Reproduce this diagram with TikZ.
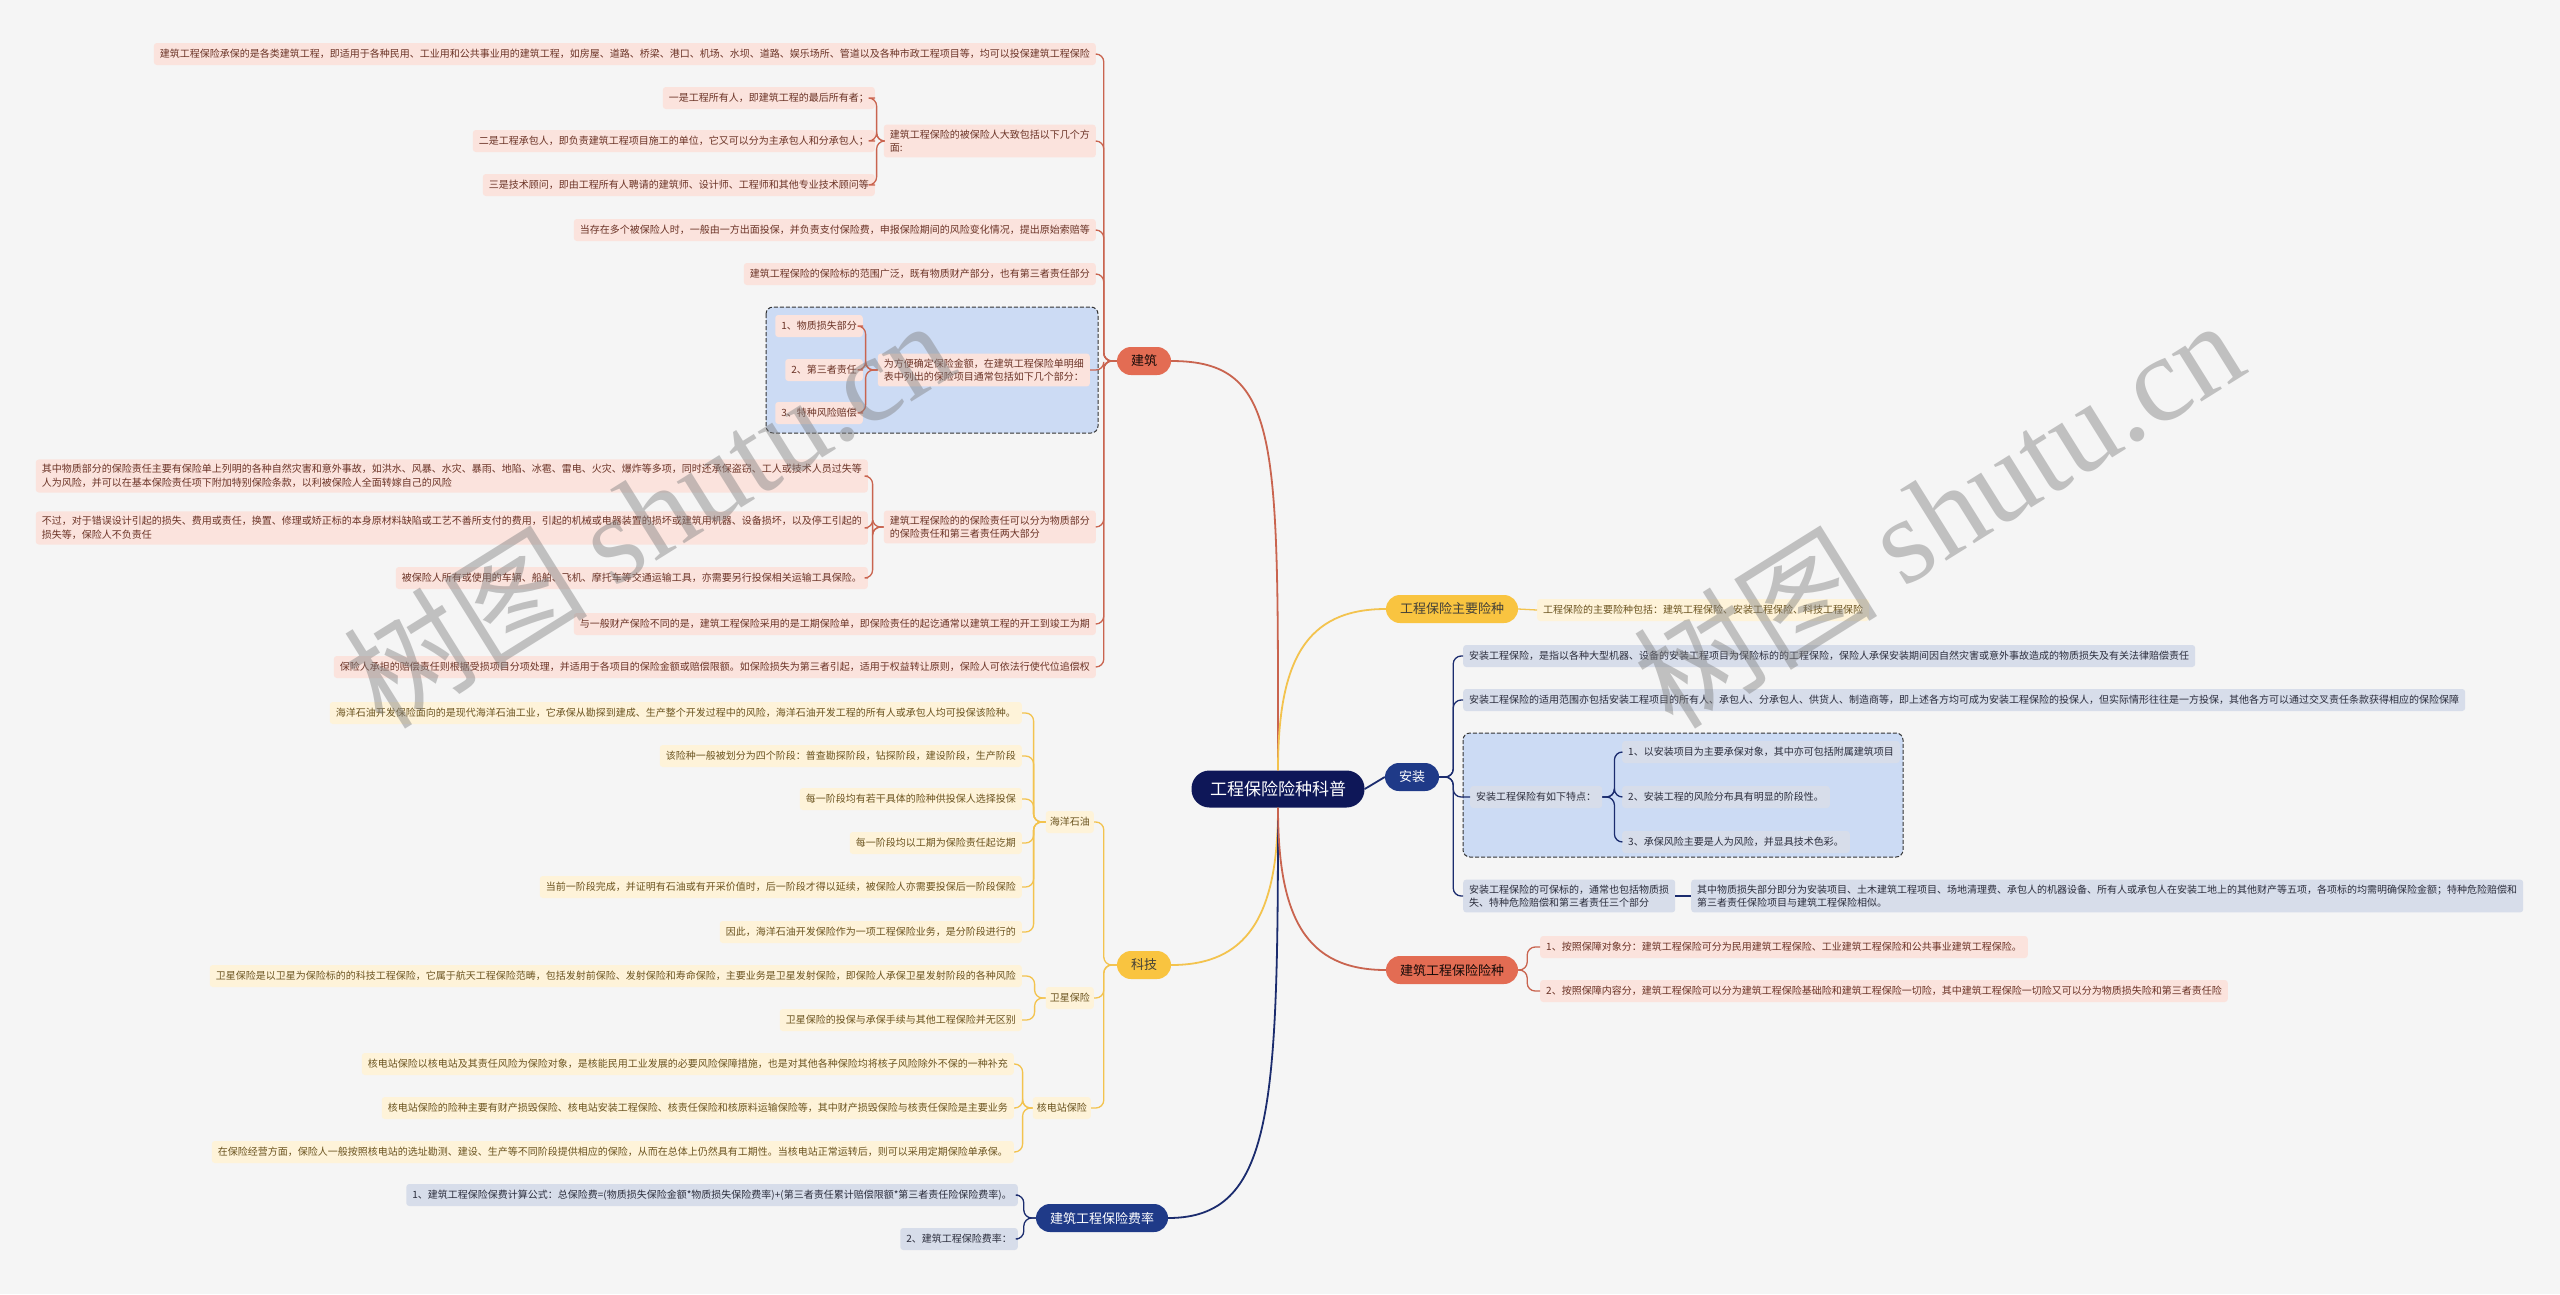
\documentclass[tikz,border=0pt]{standalone}
\usepackage{fontspec}
\setmainfont{Noto Sans CJK SC}
\newfontfamily\wmserif{Liberation Serif}
\usepackage{xcolor}
\usepackage{tikz}
\usetikzlibrary{positioning, calc}

\definecolor{bggrey}{HTML}{F5F5F5}
\definecolor{rootblue}{HTML}{0E1758}
\definecolor{navynode}{HTML}{1F3A88}
\definecolor{navyline}{HTML}{1B2C6E}
\definecolor{navyleaf}{HTML}{D7DDEA}
\definecolor{navytext}{HTML}{2B2D3C}
\definecolor{coralnode}{HTML}{E36C53}
\definecolor{coralline}{HTML}{C9644F}
\definecolor{coralleaf}{HTML}{FBE3DD}
\definecolor{coraltext}{HTML}{6B3326}
\definecolor{yellownode}{HTML}{F9C440}
\definecolor{yellowline}{HTML}{F3C34E}
\definecolor{yellowleaf}{HTML}{FEF3D9}
\definecolor{yellowtext}{HTML}{6B5420}
\definecolor{groupblue}{HTML}{CCDBF4}

\newcommand{\leaffont}{\fontsize{10}{13.5}\selectfont}

\begin{document}
\begin{tikzpicture}[
        x=1pt, y=-1pt,
        rootnode/.style={rectangle, rounded corners=18pt, fill=rootblue, text=white, font=\fontsize{17}{20}\selectfont, minimum width=173pt, minimum height=37pt},
        topic/.style={rectangle, rounded corners=14pt, font=\fontsize{13}{15}\selectfont, inner xsep=14pt, minimum height=28pt},
        coraltopic/.style={topic, fill=coralnode, text=black!80!coraltext},
        yellowtopic/.style={topic, fill=yellownode, text=black!85!yellow},
        navytopic/.style={topic, fill=navynode, text=white},
        leaf/.style={rectangle, rounded corners=3pt, font=\leaffont, inner xsep=6pt, inner ysep=5pt, minimum height=22pt, align=left},
        coralleafbox/.style={leaf, fill=coralleaf, text=coraltext},
        yellowleafbox/.style={leaf, fill=yellowleaf, text=yellowtext},
        navyleafbox/.style={leaf, fill=navyleaf, text=navytext},
        groupbox/.style={draw=black!80, fill=groupblue, dash pattern=on 4pt off 2pt, line width=1pt, rounded corners=7pt},
        coralbranch/.style={draw=coralline, line width=1.3pt, rounded corners=8pt},
        yellowbranch/.style={draw=yellowline, line width=1.3pt, rounded corners=8pt},
        navybranch/.style={draw=navyline, line width=1.3pt, rounded corners=8pt},
        watermark/.style={text=black!50, text opacity=0.45, rotate=32, font=\fontsize{122}{122}\selectfont}
    ]
        % Background
        \fill[bggrey] (0,0) rectangle (2560,1294);
        \useasboundingbox (0,0) rectangle (2560,1294);

        % Groups
        \draw[groupbox] (766,307) rectangle (1098,433);
        \draw[groupbox] (1463,733) rectangle (1903,857);

        % Root and topics
        \node[rootnode] (root) at (1278,789) {工程保险险种科普};
        \node[coraltopic] (jz) at (1144,361) {建筑};
        \node[yellowtopic] (kj) at (1144,965) {科技};
        \node[navytopic] (fl) at (1102,1218) {建筑工程保险费率};
        \node[yellowtopic] (zyxz) at (1452,609) {工程保险主要险种};
        \node[navytopic] (az) at (1412,777) {安装};
        \node[coraltopic] (jzxz) at (1452,970) {建筑工程保险险种};

        % Jianzhu
        \node[coralleafbox, anchor=east] (jza) at (1096,54) {建筑工程保险承保的是各类建筑工程，即适用于各种民用、工业用和公共事业用的建筑工程，如房屋、道路、桥梁、港口、机场、水坝、道路、娱乐场所、管道以及各种市政工程项目等，均可以投保建筑工程保险};
        \node[coralleafbox, anchor=east] (jzb) at (1096,141) {建筑工程保险的被保险人大致包括以下几个方\\面:};
        \node[coralleafbox, anchor=east] (jzb1) at (875,98) {一是工程所有人，即建筑工程的最后所有者；};
        \node[coralleafbox, anchor=east] (jzb2) at (875,141) {二是工程承包人，即负责建筑工程项目施工的单位，它又可以分为主承包人和分承包人；};
        \node[coralleafbox, anchor=east] (jzb3) at (875,185) {三是技术顾问，即由工程所有人聘请的建筑师、设计师、工程师和其他专业技术顾问等};
        \node[coralleafbox, anchor=east] (jzc) at (1096,230) {当存在多个被保险人时，一般由一方出面投保，并负责支付保险费，申报保险期间的风险变化情况，提出原始索赔等};
        \node[coralleafbox, anchor=east] (jzd) at (1096,274) {建筑工程保险的保险标的范围广泛，既有物质财产部分，也有第三者责任部分};
        \node[coralleafbox, anchor=east] (jze) at (1090,370) {为方便确定保险金额，在建筑工程保险单明细\\表中列出的保险项目通常包括如下几个部分：};
        \node[coralleafbox, anchor=east] (jze1) at (863,326) {1、物质损失部分};
        \node[coralleafbox, anchor=east] (jze2) at (863,370) {2、第三者责任};
        \node[coralleafbox, anchor=east] (jze3) at (863,413) {3、特种风险赔偿};
        \node[coralleafbox, anchor=east] (jzf) at (1096,527) {建筑工程保险的的保险责任可以分为物质部分\\的保险责任和第三者责任两大部分};
        \node[coralleafbox, anchor=east] (jzf1) at (868,476) {其中物质部分的保险责任主要有保险单上列明的各种自然灾害和意外事故，如洪水、风暴、水灾、暴雨、地陷、冰雹、雷电、火灾、爆炸等多项，同时还承保盗窃、工人或技术人员过失等\\人为风险，并可以在基本保险责任项下附加特别保险条款，以利被保险人全面转嫁自己的风险};
        \node[coralleafbox, anchor=east] (jzf2) at (868,528) {不过，对于错误设计引起的损失、费用或责任，换置、修理或矫正标的本身原材料缺陷或工艺不善所支付的费用，引起的机械或电器装置的损坏或建筑用机器、设备损坏，以及停工引起的\\损失等，保险人不负责任};
        \node[coralleafbox, anchor=east] (jzf3) at (868,578) {被保险人所有或使用的车辆、船舶、飞机、摩托车等交通运输工具，亦需要另行投保相关运输工具保险。};
        \node[coralleafbox, anchor=east] (jzg) at (1096,624) {与一般财产保险不同的是，建筑工程保险采用的是工期保险单，即保险责任的起讫通常以建筑工程的开工到竣工为期};
        \node[coralleafbox, anchor=east] (jzh) at (1096,667) {保险人承担的赔偿责任则根据受损项目分项处理，并适用于各项目的保险金额或赔偿限额。如保险损失为第三者引起，适用于权益转让原则，保险人可依法行使代位追偿权};

        % Keji
        \node[yellowleafbox, anchor=east, inner xsep=4pt] (hy) at (1094,822) {海洋石油};
        \node[yellowleafbox, anchor=east] (hy1) at (1022,713) {海洋石油开发保险面向的是现代海洋石油工业，它承保从勘探到建成、生产整个开发过程中的风险，海洋石油开发工程的所有人或承包人均可投保该险种。};
        \node[yellowleafbox, anchor=east] (hy2) at (1022,756) {该险种一般被划分为四个阶段：普查勘探阶段，钻探阶段，建设阶段，生产阶段};
        \node[yellowleafbox, anchor=east] (hy3) at (1022,799) {每一阶段均有若干具体的险种供投保人选择投保};
        \node[yellowleafbox, anchor=east] (hy4) at (1022,843) {每一阶段均以工期为保险责任起讫期};
        \node[yellowleafbox, anchor=east] (hy5) at (1022,887) {当前一阶段完成，并证明有石油或有开采价值时，后一阶段才得以延续，被保险人亦需要投保后一阶段保险};
        \node[yellowleafbox, anchor=east] (hy6) at (1022,932) {因此，海洋石油开发保险作为一项工程保险业务，是分阶段进行的};
        \node[yellowleafbox, anchor=east, inner xsep=4pt] (wx) at (1094,998) {卫星保险};
        \node[yellowleafbox, anchor=east] (wx1) at (1022,976) {卫星保险是以卫星为保险标的的科技工程保险，它属于航天工程保险范畴，包括发射前保险、发射保险和寿命保险，主要业务是卫星发射保险，即保险人承保卫星发射阶段的各种风险};
        \node[yellowleafbox, anchor=east] (wx2) at (1022,1020) {卫星保险的投保与承保手续与其他工程保险并无区别};
        \node[yellowleafbox, anchor=east, inner xsep=4pt] (hd) at (1091,1108) {核电站保险};
        \node[yellowleafbox, anchor=east] (hd1) at (1014,1064) {核电站保险以核电站及其责任风险为保险对象，是核能民用工业发展的必要风险保障措施，也是对其他各种保险均将核子风险除外不保的一种补充};
        \node[yellowleafbox, anchor=east] (hd2) at (1014,1108) {核电站保险的险种主要有财产损毁保险、核电站安装工程保险、核责任保险和核原料运输保险等，其中财产损毁保险与核责任保险是主要业务};
        \node[yellowleafbox, anchor=east] (hd3) at (1014,1152) {在保险经营方面，保险人一般按照核电站的选址勘测、建设、生产等不同阶段提供相应的保险，从而在总体上仍然具有工期性。当核电站正常运转后，则可以采用定期保险单承保。};

        % Feilv
        \node[navyleafbox, anchor=east] (fl1) at (1018,1195) {1、建筑工程保险保费计算公式：总保险费=(物质损失保险金额*物质损失保险费率)+(第三者责任累计赔偿限额*第三者责任险保险费率)。};
        \node[navyleafbox, anchor=east] (fl2) at (1018,1239) {2、建筑工程保险费率：};

        % Right side
        \node[yellowleafbox, anchor=west] (zy1) at (1537,610) {工程保险的主要险种包括：建筑工程保险、安装工程保险、科技工程保险};
        \node[navyleafbox, anchor=west] (az1) at (1463,656) {安装工程保险，是指以各种大型机器、设备的安装工程项目为保险标的的工程保险，保险人承保安装期间因自然灾害或意外事故造成的物质损失及有关法律赔偿责任};
        \node[navyleafbox, anchor=west] (az2) at (1463,700) {安装工程保险的适用范围亦包括安装工程项目的所有人、承包人、分承包人、供货人、制造商等，即上述各方均可成为安装工程保险的投保人，但实际情形往往是一方投保，其他各方可以通过交叉责任条款获得相应的保险保障};
        \node[navyleafbox, anchor=west] (az3) at (1470,797) {安装工程保险有如下特点：};
        \node[navyleafbox, anchor=west] (az3a) at (1622,752) {1、以安装项目为主要承保对象，其中亦可包括附属建筑项目};
        \node[navyleafbox, anchor=west] (az3b) at (1622,797) {2、安装工程的风险分布具有明显的阶段性。};
        \node[navyleafbox, anchor=west] (az3c) at (1622,842) {3、承保风险主要是人为风险，并显具技术色彩。};
        \node[navyleafbox, anchor=west] (az4) at (1463,896) {安装工程保险的可保标的，通常也包括物质损\\失、特种危险赔偿和第三者责任三个部分};
        \node[navyleafbox, anchor=west] (az4a) at (1691,896) {其中物质损失部分即分为安装项目、土木建筑工程项目、场地清理费、承包人的机器设备、所有人或承包人在安装工地上的其他财产等五项，各项标的均需明确保险金额；特种危险赔偿和\\第三者责任保险项目与建筑工程保险相似。};
        \node[coralleafbox, anchor=west] (xz1) at (1540,947) {1、按照保障对象分：建筑工程保险可分为民用建筑工程保险、工业建筑工程保险和公共事业建筑工程保险。};
        \node[coralleafbox, anchor=west] (xz2) at (1540,991) {2、按照保障内容分，建筑工程保险可以分为建筑工程保险基础险和建筑工程保险一切险，其中建筑工程保险一切险又可以分为物质损失险和第三者责任险};

        % Root links
        \draw[coralline, line width=1.8pt] (root.north) .. controls +(0,-330) and +(110,0) .. (jz.east);
        \draw[yellowline, line width=1.8pt] (root.south) .. controls +(0,110) and +(75,0) .. (kj.east);
        \draw[navyline, line width=1.8pt] (root.south) .. controls +(0,300) and +(105,0) .. (fl.east);
        \draw[yellowline, line width=1.8pt] (root.north) .. controls +(0,-110) and +(-80,0) .. (zyxz.west);
        \draw[navyline, line width=1.8pt] (root.east) -- (az.west);
        \draw[coralline, line width=1.8pt] (root.south) .. controls +(0,110) and +(-80,0) .. (jzxz.west);

        % Branch links
        \foreach \c in {jza,jzb,jzc,jzd,jze,jzf,jzg,jzh}
            \draw[coralbranch] (jz.west) -- ++(-13,0) |- (\c.east);
        \foreach \c in {jzb1,jzb2,jzb3}
            \draw[coralbranch] (jzb.west) -- ++(-7,0) |- (\c.east);
        \foreach \c in {jze1,jze2,jze3}
            \draw[coralbranch] (jze.west) -- ++(-12,0) |- (\c.east);
        \foreach \c in {jzf1,jzf2,jzf3}
            \draw[coralbranch] (jzf.west) -- ++(-11,0) |- (\c.east);
        \foreach \c in {hy,wx,hd}
            \draw[yellowbranch] (kj.west) -- ++(-13,0) |- (\c.east);
        \foreach \c in {hy1,hy2,hy3,hy4,hy5,hy6}
            \draw[yellowbranch] (hy.west) -- ++(-12,0) |- (\c.east);
        \foreach \c in {wx1,wx2}
            \draw[yellowbranch] (wx.west) -- ++(-11,0) |- (\c.east);
        \foreach \c in {hd1,hd2,hd3}
            \draw[yellowbranch] (hd.west) -- ++(-10,0) |- (\c.east);
        \foreach \c in {fl1,fl2}
            \draw[navybranch] (fl.west) -- ++(-12,0) |- (\c.east);
        \draw[yellowbranch] (zyxz.east) -- (zy1.west);
        \foreach \c in {az1,az2,az3,az4}
            \draw[navybranch] (az.east) -- ++(14,0) |- (\c.west);
        \foreach \c in {az3a,az3b,az3c}
            \draw[navybranch] (az3.east) -- ++(12,0) |- (\c.west);
        \draw[navybranch] (az4.east) -- (az4a.west);
        \foreach \c in {xz1,xz2}
            \draw[coralbranch] (jzxz.east) -- ++(9,0) |- (\c.west);

        % Watermarks
        \node[watermark] (wm1) at (648,512) {树图 {\wmserif shutu.cn}};
        \node[watermark] (wm2) at (1938,512) {树图 {\wmserif shutu.cn}};
    \end{tikzpicture}
\end{document}
